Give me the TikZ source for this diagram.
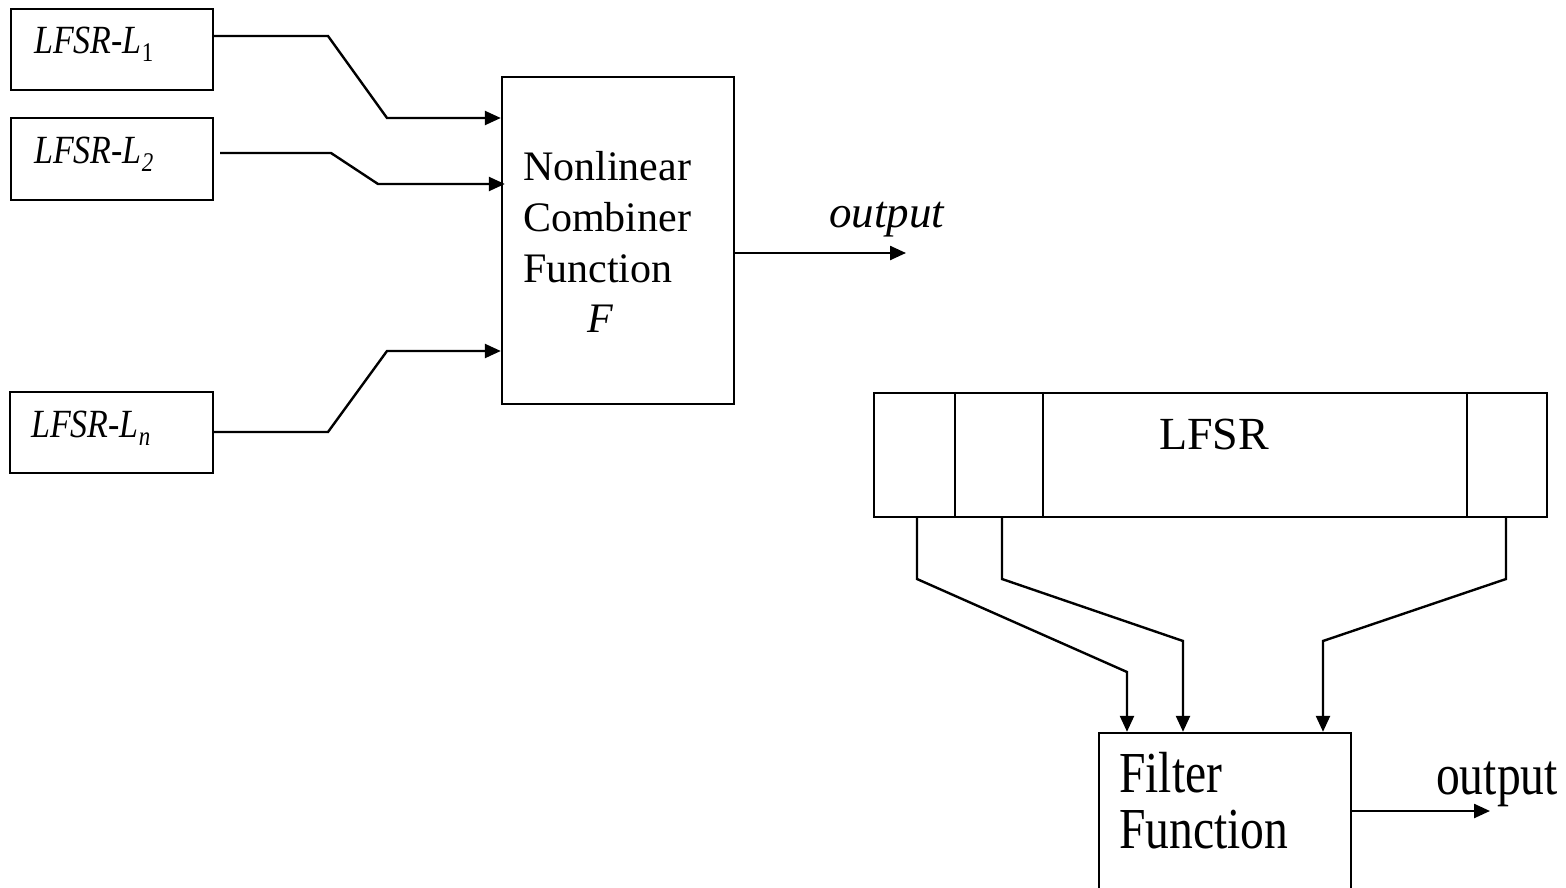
\documentclass[tikz,border=0pt]{standalone}
\usepackage{fontspec}
\setmainfont{Liberation Serif}
\newfontfamily\lblfont[FakeStretch=0.85]{Liberation Serif}
\newfontfamily\fltfont[FakeStretch=0.82]{Liberation Serif}
\usetikzlibrary{arrows.meta}
\begin{document}
\begin{tikzpicture}[x=1pt,y=-1pt,line width=2.4pt,line join=miter,
  box/.style={draw,line width=2.4pt,inner sep=0pt},
  txt/.style={anchor=base west,inner sep=0pt},
  arr/.style={-{Triangle[length=16pt,width=14pt]}},
  lblstyle/.style={txt,font=\lblfont\itshape\fontsize{40}{40}\selectfont},
  bigtxt/.style={txt,font=\fontsize{42}{42}\selectfont},
  flttxt/.style={txt,font=\fltfont\fontsize{58}{58}\selectfont}]
\useasboundingbox (0,0) rectangle (1566,888);
% boxes
\node[box,minimum width=202pt,minimum height=81pt] (l1) at (112,49.5) {};
\node[box,minimum width=202pt,minimum height=82pt] (l2) at (112,159) {};
\node[box,minimum width=203pt,minimum height=81pt] (ln) at (111.5,432.5) {};
\node[box,minimum width=232pt,minimum height=327pt] (comb) at (618,240.5) {};
\node[box,minimum width=673pt,minimum height=124pt] (reg) at (1210.5,455) {};
\node[box,minimum width=252pt,minimum height=167pt] (filt) at (1225,816.5) {};
% register dividers
\draw (reg.north -| 955,0) -- (reg.south -| 955,0);
\draw (reg.north -| 1043,0) -- (reg.south -| 1043,0);
\draw (reg.north -| 1467,0) -- (reg.south -| 1467,0);
% texts
\node[lblstyle] (t1) at (33,54) {LFSR-L\raisebox{-8pt}{\fontsize{27}{27}\selectfont\upshape 1}};
\node[lblstyle] (t2) at (33,164) {LFSR-L\raisebox{-8pt}{\fontsize{27}{27}\selectfont 2}};
\node[lblstyle] (tn) at (30,437) {LFSR-L\raisebox{-8pt}{\fontsize{27}{27}\selectfont n}};
\node[bigtxt] (c1) at (522,180) {Nonlinear};
\node[bigtxt] (c2) at (522,231) {Combiner};
\node[bigtxt] (c3) at (522,282) {Function};
\node[bigtxt,font=\itshape\fontsize{42}{42}\selectfont] (c4) at (586,332) {F};
\node[txt,font=\itshape\fontsize{45}{45}\selectfont] (o1) at (828,227) {output};
\node[txt,font=\fontsize{46}{46}\selectfont] (lf) at (1158,449) {LFSR};
\node[flttxt] (f1) at (1118,792) {Filter};
\node[flttxt] (f2) at (1118,848) {Function};
\node[flttxt] (o2) at (1435,794) {output};
% free ends
\coordinate (out1) at (906,253);
\coordinate (out2) at (1490,811);
% connectors to combiner
\draw[arr] (l1.east |- 0,36) -- (328,36) -- (387,118) -- (comb.west |- 0,118);
\draw[arr,shorten <=6pt,shorten >=-4pt] (l2.east |- 0,153) -- (331,153) -- (378,184) -- (comb.west |- 0,184);
\draw[arr] (ln.east |- 0,432) -- (328,432) -- (387,351) -- (comb.west |- 0,351);
\draw[arr] (comb.east |- out1) -- (out1);
% connectors to filter
\draw[arr] (reg.south -| 917,0) -- (917,579) -- (1127,672) -- (filt.north -| 1127,0);
\draw[arr] (reg.south -| 1002,0) -- (1002,579) -- (1183,641) -- (filt.north -| 1183,0);
\draw[arr] (reg.south -| 1506,0) -- (1506,579) -- (1323,641) -- (filt.north -| 1323,0);
\draw[arr] (filt.east |- out2) -- (out2);
\end{tikzpicture}
\end{document}
